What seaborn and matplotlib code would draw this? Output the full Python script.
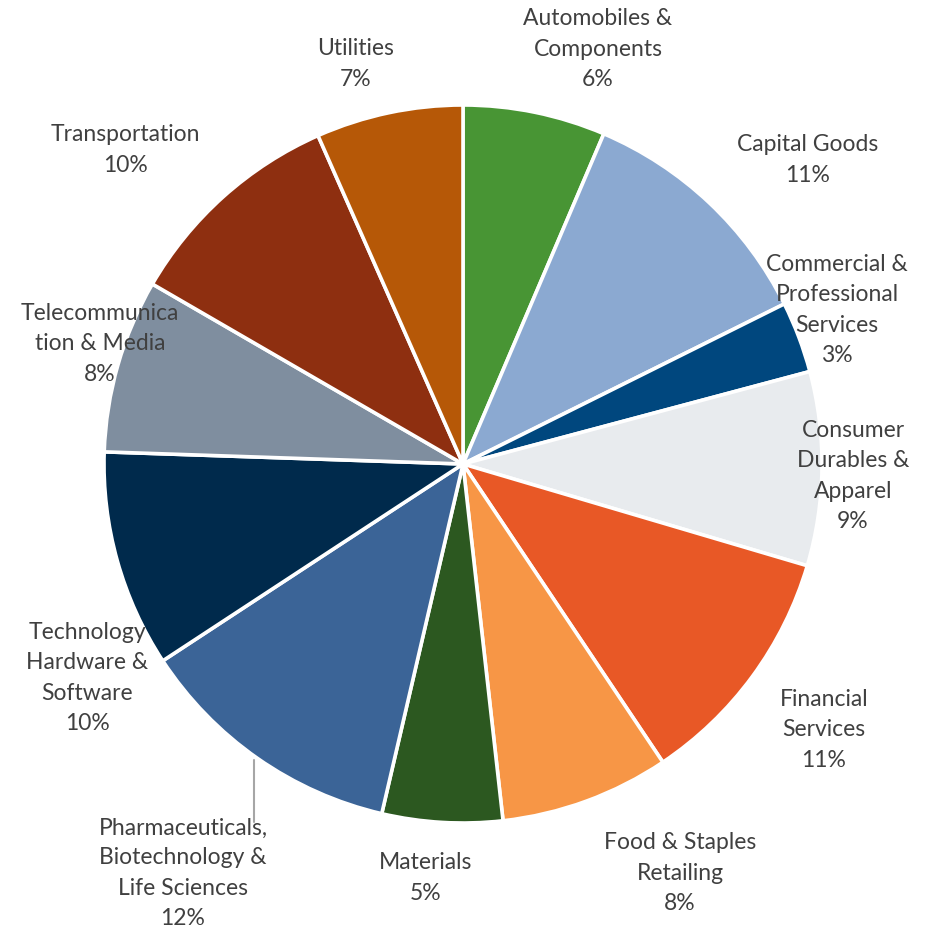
import matplotlib
matplotlib.use("Agg")
import matplotlib.pyplot as plt
import seaborn as sns

# Sector weights (percent), clockwise from 12 o'clock
sectors = [
    "Automobiles &\nComponents",
    "Capital Goods",
    "Commercial &\nProfessional\nServices",
    "Consumer\nDurables &\nApparel",
    "Financial\nServices",
    "Food & Staples\nRetailing",
    "Materials",
    "Pharmaceuticals,\nBiotechnology &\nLife Sciences",
    "Technology\nHardware &\nSoftware",
    "Telecommunica\ntion & Media",
    "Transportation",
    "Utilities",
]
weights = [6.4, 11.2, 3.2, 8.7, 11.0, 7.6, 5.4, 12.1, 9.75, 7.8, 10.0, 6.6]

colors = [
    "#489534", "#8BA9D1", "#00477E", "#E8EBEE", "#E85826", "#F79646",
    "#2C5820", "#3B6497", "#002A4C", "#7F8E9F", "#8E2F10", "#B65807",
]

# Label block centres in pixels (figure is 931 x 930)
label_px = [
    (598, 49), (808, 160), (837, 310), (853, 476), (824, 730), (680, 873),
    (426, 878), (183, 873), (87, 678), (100, 344), (125, 150), (356, 64),
]

W, H = 931, 930
CX, CY, R = 463, 464, 359

sns.set_theme(style="white")
plt.rcParams["font.family"] = ["Lato", "DejaVu Sans"]

fig = plt.figure(figsize=(W / 100, H / 100), dpi=100)
ax = fig.add_axes([(CX - R) / W, (H - CY - R) / H, 2 * R / W, 2 * R / H])

ax.pie(
    weights,
    colors=colors,
    startangle=90,
    counterclock=False,
    radius=1.0,
    wedgeprops=dict(edgecolor="white", linewidth=2.6),
)
ax.set_xlim(-1, 1)
ax.set_ylim(-1, 1)
ax.set_aspect("equal")
ax.axis("off")

for name, w, (px, py) in zip(sectors, weights, label_px):
    fig.text(
        px / W, 1 - py / H,
        f"{name}\n{round(w)}%",
        ha="center", va="center", ma="center",
        fontsize=16.5, color="#404040", linespacing=1.53,
    )

# Leader line for the Pharmaceuticals label
fig.add_artist(plt.Line2D([254 / W, 254 / W], [1 - 760 / H, 1 - 822 / H],
                          color="#A6A6A6", linewidth=1.5))

fig.savefig("out.png", dpi=100, facecolor="white")
